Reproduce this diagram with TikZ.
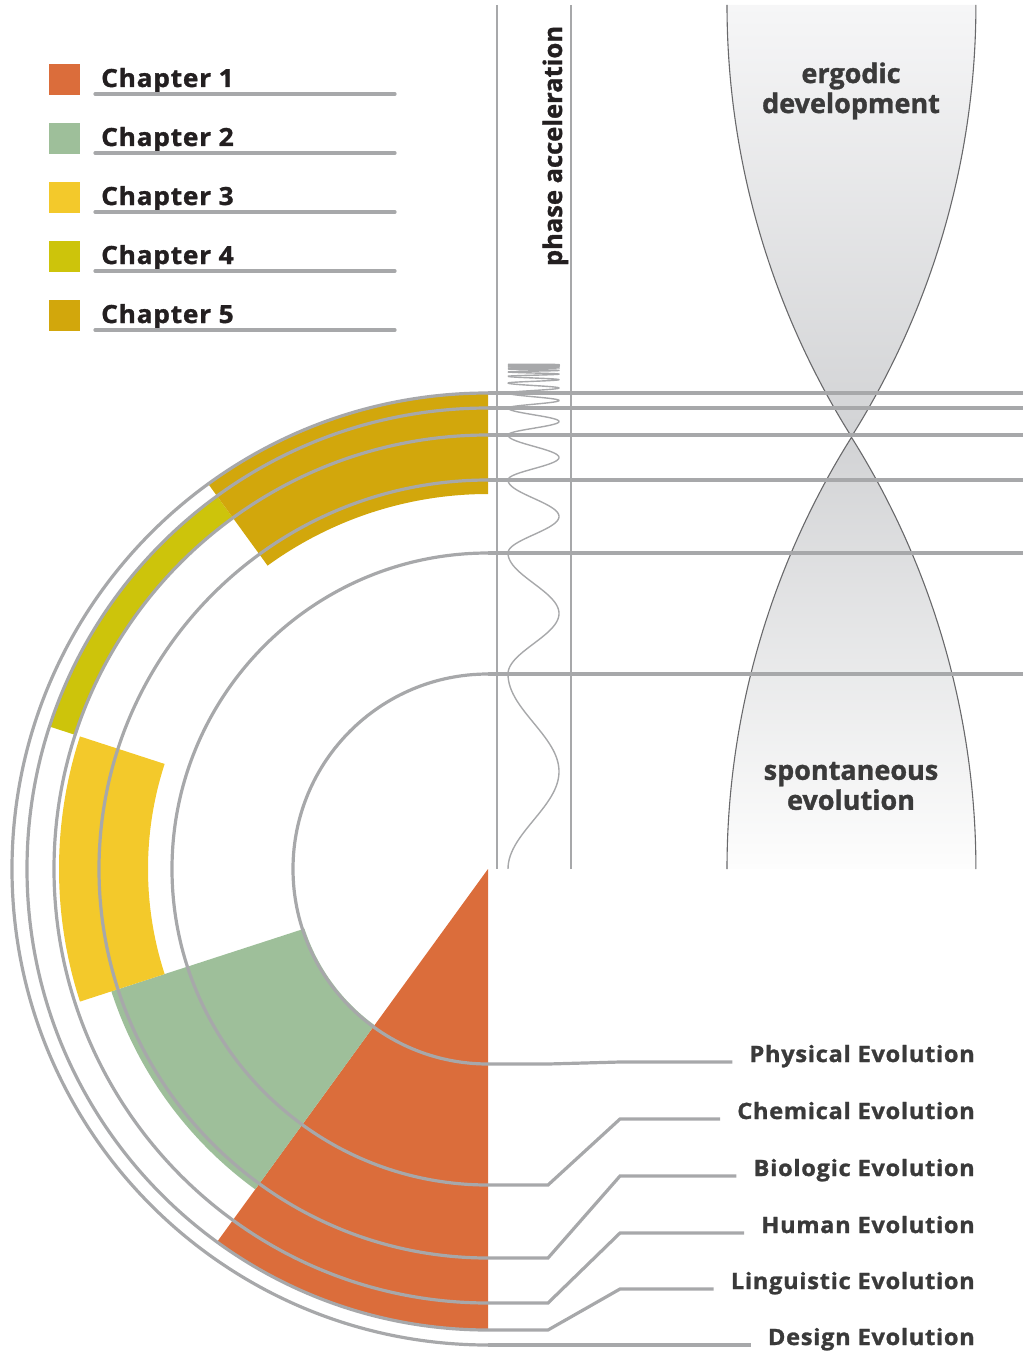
\documentclass[tikz,border=0pt]{standalone}
\usepackage{fontspec}
\setmainfont{Open Sans}
\newfontfamily\spacedbold{Open Sans}[BoldFeatures={LetterSpace=3.1,FakeStretch=1.05,FakeBold=1.2}]
\newfontfamily\heavy{Open Sans}[BoldFeatures={FakeBold=1.2}]
\usetikzlibrary{calc}

\definecolor{chone}{RGB}{219,109,59}
\definecolor{chtwo}{RGB}{158,191,154}
\definecolor{chthree}{RGB}{243,201,43}
\definecolor{chfour}{RGB}{205,196,11}
\definecolor{chfive}{RGB}{210,167,12}
\definecolor{rulegray}{RGB}{167,168,170}
\definecolor{ink}{RGB}{35,31,32}
\definecolor{labink}{RGB}{58,58,58}
\definecolor{hgedge}{RGB}{105,105,107}
\definecolor{hgtop}{RGB}{246,246,247}
\definecolor{hgmid}{RGB}{210,211,213}
\definecolor{hgbot}{RGB}{253,253,253}

% ring sector: colour, start angle, end angle, inner radius, outer radius
\newcommand\ringsector[5]{%
  \fill[#1] ($(O)+(#2:#5)$) arc[start angle=#2,end angle=#3,radius=#5]
    -- ($(O)+(#3:#4)$) arc[start angle=#3,end angle=#2,radius=#4] -- cycle;}

\begin{document}
\begin{tikzpicture}[x=1pt,y=-1pt,
  ring/.style={draw=rulegray,line width=3.2pt},
  phaserule/.style={draw=rulegray,line width=2pt},
  wave/.style={draw=rulegray,line width=1.4pt},
  underl/.style={draw=rulegray,line width=3.2pt,line cap=round},
  hgline/.style={draw=hgedge,line width=1.1pt},
  swatch/.style={minimum size=31pt,inner sep=0pt,outer sep=0pt},
  chap/.style={font=\fontsize{25}{30}\selectfont\spacedbold\bfseries,text=ink,inner sep=0pt,anchor=base west},
  evo/.style={font=\fontsize{22.5}{27}\selectfont\spacedbold\bfseries,text=labink,inner sep=0pt,anchor=base east},
  hgtext/.style={font=\fontsize{27}{30}\selectfont\heavy\bfseries,text=labink,align=center,inner sep=0pt},
  phasetext/.style={font=\fontsize{25.5}{30}\selectfont\heavy\bfseries,text=ink,inner sep=0pt}]

\useasboundingbox (0,0) rectangle (1023,1351);

\coordinate (O) at (488,869);
\coordinate (edge) at (1023,0);

% hourglass: two lens-shaped halves meeting at the waist
\shade[top color=hgtop,bottom color=hgmid]
  (727,5) arc[start angle=180,end angle=147.84,radius=811]
  arc[start angle=32.16,end angle=0,radius=811] -- cycle;
\draw[hgline] (727,5) arc[start angle=180,end angle=147.84,radius=811]
  coordinate (waist) arc[start angle=32.16,end angle=0,radius=811];
\shade[top color=hgmid,bottom color=hgbot]
  (727,869) arc[start angle=180,end angle=212.16,radius=811]
  arc[start angle=327.84,end angle=360,radius=811] -- cycle;
\draw[hgline] (727,869) arc[start angle=180,end angle=212.16,radius=811]
  arc[start angle=327.84,end angle=360,radius=811];

\node[hgtext] (ergo) at (851,91) {ergodic\\development};
\node[hgtext] (spont) at (851,786) {spontaneous\\evolution};

% phase acceleration column
\draw[phaserule] (497,5) -- (497,869);
\draw[phaserule] (571,5) -- (571,869);
\node[phasetext,rotate=90,anchor=base] (phase) at (562,146) {phase acceleration};

% chirped oscillation: one period between successive levels
\foreach \ya/\yb in {364.2/364.8,364.8/365.6,365.6/366.9,366.9/368.9,368.9/371.9,
                     371.9/376.3,376.3/383,383/393,393/408,408/435,435/480,
                     480/553,553/674,674/869}{
  \draw[wave] plot[domain=0:1,samples=60,variable=\t]
    ({533.5-25.5*cos(360*\t)},{\ya+(\yb-\ya)*\t});
}

% chapter sectors
\fill[chone] (O) -- ($(O)+(126:461)$) arc[start angle=126,end angle=90,radius=461] -- cycle;
\ringsector{chtwo}{126}{162}{193}{396}
\ringsector{chthree}{162}{198}{340}{429}
\ringsector{chfour}{198}{234}{435}{460}
\ringsector{chfive}{234}{270}{375}{475}

% concentric half rings with their levels
\foreach \r [count=\i] in {195,316,389,434,461,476}{
  \coordinate (t\i) at ($(O)+(270:\r)$);
  \coordinate (b\i) at ($(O)+(90:\r)$);
  \draw[ring] (b\i) arc[start angle=90,end angle=270,radius=\r];
  \draw[ring] (t\i) -- (t\i -| edge);
}

% evolution labels and leaders
\node[evo] (lab1) at (975,1062) {Physical Evolution};
\node[evo] (lab2) at (975,1119) {Chemical Evolution};
\node[evo] (lab3) at (975,1176) {Biologic Evolution};
\node[evo] (lab4) at (975,1233) {Human Evolution};
\node[evo] (lab5) at (975,1289) {Linguistic Evolution};
\node[evo] (lab6) at (975,1345) {Design Evolution};

\draw[ring] (b1) -- ++(60,0) -- (620,1062) -- ([xshift=-17pt]lab1.base west);
\draw[ring] (b2) -- ++(60,0) -- (620,1119) -- ([xshift=-17pt]lab2.base west);
\draw[ring] (b3) -- ++(60,0) -- (620,1176) -- ([xshift=-17pt]lab3.base west);
\draw[ring] (b4) -- ++(60,0) -- (620,1233) -- ([xshift=-17pt]lab4.base west);
\draw[ring] (b5) -- ++(60,0) -- (620,1289) -- ([xshift=-17pt]lab5.base west);
\draw[ring] (b6) -- ([xshift=-17pt]lab6.base west);

% legend
\foreach \c [count=\i] in {chone,chtwo,chthree,chfour,chfive}{
  \node[swatch,fill=\c] (sw\i) at (64.5,{79.5+59*(\i-1)}) {};
  \node[chap] (ch\i) at (101,{87+59*(\i-1)}) {Chapter \i};
  \draw[underl] (95,{94+59*(\i-1)}) -- (395,{94+59*(\i-1)});
}
\end{tikzpicture}
\end{document}
